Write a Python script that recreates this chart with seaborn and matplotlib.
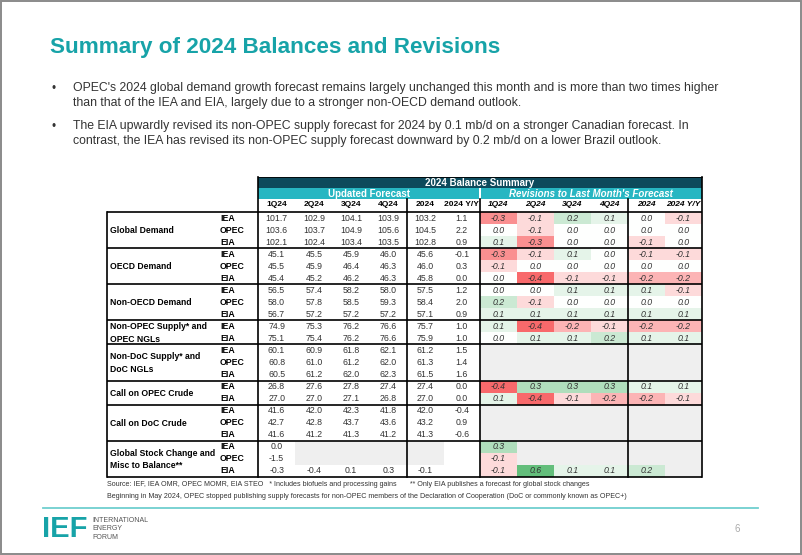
import matplotlib
matplotlib.use("Agg")
import matplotlib.pyplot as plt
import numpy as np
import pandas as pd
import seaborn as sns
from matplotlib.colors import LinearSegmentedColormap, ListedColormap, TwoSlopeNorm
from matplotlib.patches import Rectangle

nan = np.nan

# ---- data -------------------------------------------------------------
groups = [
    "Global Demand",
    "OECD Demand",
    "Non-OECD Demand",
    "Non-OPEC Supply* and\nOPEC NGLs",
    "Non-DoC Supply* and\nDoC NGLs",
    "Call on OPEC Crude",
    "Call on DoC Crude",
    "Global Stock Change and\nMisc to Balance**",
]
group_sources = [
    ["IEA", "OPEC", "EIA"],
    ["IEA", "OPEC", "EIA"],
    ["IEA", "OPEC", "EIA"],
    ["IEA", "EIA"],
    ["IEA", "OPEC", "EIA"],
    ["IEA", "EIA"],
    ["IEA", "OPEC", "EIA"],
    ["IEA", "OPEC", "EIA"],
]
quarters = ["1Q24", "2Q24", "3Q24", "4Q24"]
annual = ["2024", "2024 Y/Y"]

updated_q = [
    [101.7, 102.9, 104.1, 103.9], [103.6, 103.7, 104.9, 105.6], [102.1, 102.4, 103.4, 103.5],
    [45.1, 45.5, 45.9, 46.0], [45.5, 45.9, 46.4, 46.3], [45.4, 45.2, 46.2, 46.3],
    [56.5, 57.4, 58.2, 58.0], [58.0, 57.8, 58.5, 59.3], [56.7, 57.2, 57.2, 57.2],
    [74.9, 75.3, 76.2, 76.6], [75.1, 75.4, 76.2, 76.6],
    [60.1, 60.9, 61.8, 62.1], [60.8, 61.0, 61.2, 62.0], [60.5, 61.2, 62.0, 62.3],
    [26.8, 27.6, 27.8, 27.4], [27.0, 27.0, 27.1, 26.8],
    [41.6, 42.0, 42.3, 41.8], [42.7, 42.8, 43.7, 43.6], [41.6, 41.2, 41.3, 41.2],
    [0.0, nan, nan, nan], [-1.5, nan, nan, nan], [-0.3, -0.4, 0.1, 0.3],
]
updated_a = [
    [103.2, 1.1], [104.5, 2.2], [102.8, 0.9],
    [45.6, -0.1], [46.0, 0.3], [45.8, 0.0],
    [57.5, 1.2], [58.4, 2.0], [57.1, 0.9],
    [75.7, 1.0], [75.9, 1.0],
    [61.2, 1.5], [61.3, 1.4], [61.5, 1.6],
    [27.4, 0.0], [27.0, 0.0],
    [42.0, -0.4], [43.2, 0.9], [41.3, -0.6],
    [nan, nan], [nan, nan], [-0.1, nan],
]
revision_q = [
    [-0.3, -0.1, 0.2, 0.1], [0.0, -0.1, 0.0, 0.0], [0.1, -0.3, 0.0, 0.0],
    [-0.3, -0.1, 0.1, 0.0], [-0.1, 0.0, 0.0, 0.0], [0.0, -0.4, -0.1, -0.1],
    [0.0, 0.0, 0.1, 0.1], [0.2, -0.1, 0.0, 0.0], [0.1, 0.1, 0.1, 0.1],
    [0.1, -0.4, -0.2, -0.1], [0.0, 0.1, 0.1, 0.2],
    [nan, nan, nan, nan], [nan, nan, nan, nan], [nan, nan, nan, nan],
    [-0.4, 0.3, 0.3, 0.3], [0.1, -0.4, -0.1, -0.2],
    [nan, nan, nan, nan], [nan, nan, nan, nan], [nan, nan, nan, nan],
    [0.3, nan, nan, nan], [-0.1, nan, nan, nan], [-0.1, 0.6, 0.1, 0.1],
]
revision_a = [
    [0.0, -0.1], [0.0, 0.0], [-0.1, 0.0],
    [-0.1, -0.1], [0.0, 0.0], [-0.2, -0.2],
    [0.1, -0.1], [0.0, 0.0], [0.1, 0.1],
    [-0.2, -0.2], [0.1, 0.1],
    [nan, nan], [nan, nan], [nan, nan],
    [0.1, 0.1], [-0.2, -0.1],
    [nan, nan], [nan, nan], [nan, nan],
    [nan, nan], [nan, nan], [0.2, nan],
]

title = "Summary of 2024 Balances and Revisions"
bullets = [
    "OPEC's 2024 global demand growth forecast remains largely unchanged this month and is more than two times higher\n"
    "than that of the IEA and EIA, largely due to a stronger non-OECD demand outlook.",
    "The EIA upwardly revised its non-OPEC supply forecast for 2024 by 0.1 mb/d on a stronger Canadian forecast. In\n"
    "contrast, the IEA has revised its non-OPEC supply forecast downward by 0.2 mb/d on a lower Brazil outlook.",
]

# ---- layout (pixels) ---------------------------------------------------
W, H = 802, 555
X_LAB, X_UPD, X_UPD_A, X_REV, X_REV_A, X_END = 107, 258, 407, 480, 628, 702
Y_TOP, Y_H2, Y_H3, Y_DATA, Y_END = 176.5, 188, 199, 212, 477
TEAL = "#17a3a8"
DARK = "#0d4a5c"
CYAN = "#27b6c2"
GREY = "#efefef"
TXT = "#333333"
FS = 6.3

sources = [s for grp in group_sources for s in grp]
row_h = (Y_END - Y_DATA) / len(sources)

plt.rcParams["font.family"] = ["Liberation Sans", "DejaVu Sans"]
fig = plt.figure(figsize=(W / 100, H / 100), dpi=100)


def px_axes(x0, y0, x1, y1):
    return fig.add_axes([x0 / W, 1 - y1 / H, (x1 - x0) / W, (y1 - y0) / H])


def labels_of(block):
    return [["" if np.isnan(v) else f"{v:.1f}" for v in row] for row in block]


shade_cmap = ListedColormap(["white", GREY])
rev_cmap = LinearSegmentedColormap.from_list("rev", ["#F8696B", "#FFFFFF", "#63BE7B"])
rev_norm = TwoSlopeNorm(vmin=-0.4, vcenter=0.0, vmax=0.6)


def draw_block(x0, x1, values, cols, revision, show_sources=False):
    ax = px_axes(x0, Y_DATA, x1, Y_END)
    df = pd.DataFrame(values, columns=cols)
    if revision:
        ax.set_facecolor(GREY)
        sns.heatmap(df, ax=ax, cmap=rev_cmap, norm=rev_norm, cbar=False,
                    annot=True, fmt=".1f", xticklabels=cols, yticklabels=sources,
                    annot_kws={"fontsize": FS, "style": "italic", "color": TXT})
    else:
        # missing values are shaded grey, except the Y/Y column which stays blank
        shade = df.isna().astype(float)
        if "2024 Y/Y" in shade.columns:
            shade["2024 Y/Y"] = 0.0
        sns.heatmap(shade, ax=ax, cmap=shade_cmap, vmin=0, vmax=1, cbar=False,
                    annot=np.array(labels_of(values)), fmt="",
                    xticklabels=cols, yticklabels=sources,
                    annot_kws={"fontsize": FS, "color": TXT})
    ax.xaxis.tick_top()
    ax.set_xticklabels(cols, rotation=0, fontsize=6.0, fontweight="bold",
                       style="italic" if revision else "normal", color="black")
    ax.tick_params(axis="x", length=0, pad=2.6)
    if show_sources:
        ax.set_yticklabels(sources, rotation=0, ha="left", fontsize=FS,
                           fontweight="bold", color="black")
        ax.tick_params(axis="y", length=0, pad=(x0 - 220) * 0.72)
    else:
        ax.set_yticks([])
    ax.set_xlabel("")
    ax.set_ylabel("")
    return ax


draw_block(X_UPD, X_UPD_A, updated_q, quarters, False, show_sources=True)
draw_block(X_UPD_A, X_REV, updated_a, annual, False)
draw_block(X_REV, X_REV_A, revision_q, quarters, True)
draw_block(X_REV_A, X_END, revision_a, annual, True)

# ---- overlay: headers, rules, text ------------------------------------
ov = fig.add_axes([0, 0, 1, 1], facecolor="none")
ov.set_xlim(0, W)
ov.set_ylim(H, 0)
ov.axis("off")

ov.add_patch(Rectangle((0.75, 0.75), W - 1.5, H - 1.5, fill=False, ec="#8a8a8a", lw=1.4))

ov.text(50, 47, title, fontsize=16.2, fontweight="bold", color=TEAL, va="center", ha="left")
by = 89
for b in bullets:
    ov.text(52, by, "\u2022", fontsize=8.5, color=TXT, va="center")
    ov.text(73, by - 7.5, b, fontsize=8.8, color=TXT, va="top", ha="left", linespacing=1.36)
    by += 38

# table headers
ov.add_patch(Rectangle((X_UPD, Y_TOP), X_END - X_UPD, Y_H2 - Y_TOP, color=DARK, lw=0))
ov.add_patch(Rectangle((X_UPD, Y_H2), X_REV - X_UPD - 0.8, Y_H3 - Y_H2, color=CYAN, lw=0))
ov.add_patch(Rectangle((X_REV + 0.8, Y_H2), X_END - X_REV - 0.8, Y_H3 - Y_H2, color=CYAN, lw=0))
ov.text((X_UPD + X_END) / 2, (Y_TOP + Y_H2) / 2 + 0.5, "2024 Balance Summary", color="white",
        fontsize=7, fontweight="bold", ha="center", va="center")
ov.text((X_UPD + X_REV) / 2, (Y_H2 + Y_H3) / 2 + 0.5, "Updated Forecast", color="white",
        fontsize=7, fontweight="bold", ha="center", va="center")
ov.text((X_REV + X_END) / 2, (Y_H2 + Y_H3) / 2 + 0.5, "Revisions to Last Month's Forecast",
        color="white", fontsize=7, fontweight="bold", style="italic", ha="center", va="center")

LW = 1.2
# group rules and labels
y = Y_DATA
ov.plot([X_LAB, X_END], [y, y], color="black", lw=LW, solid_capstyle="butt")
for grp, srcs in zip(groups, group_sources):
    y_next = y + len(srcs) * row_h
    ov.text(X_LAB + 3, (y + y_next) / 2 + 0.5, grp, fontsize=6.2, fontweight="bold",
            color="black", ha="left", va="center", linespacing=1.45)
    ov.plot([X_LAB, X_END], [y_next, y_next], color="black", lw=LW, solid_capstyle="butt")
    y = y_next

ov.plot([X_LAB, X_LAB], [Y_DATA, Y_END], color="black", lw=LW)
for xv in (X_UPD, X_END):
    ov.plot([xv, xv], [Y_TOP, Y_END], color="black", lw=LW)
for xv in (X_UPD_A, X_REV_A):
    ov.plot([xv, xv], [Y_H3, Y_END], color="black", lw=LW)
ov.plot([X_REV, X_REV], [Y_H3, Y_END], color="black", lw=LW)
ov.plot([X_UPD, X_END], [Y_TOP, Y_TOP], color="black", lw=0.6)

# notes
ov.text(X_LAB, 484, "Source: IEF, IEA OMR, OPEC MOMR, EIA STEO   * Includes biofuels and processing gains",
        fontsize=5.1, color=TXT, va="center")
ov.text(410, 484, "** Only EIA publishes a forecast for global stock changes",
        fontsize=5.1, color=TXT, va="center")
ov.text(X_LAB, 496, "Beginning in May 2024, OPEC stopped publishing supply forecasts for non-OPEC members "
        "of the Declaration of Cooperation (DoC or commonly known as OPEC+)",
        fontsize=5.1, color=TXT, va="center")

# footer
ov.plot([43, 758], [507.5, 507.5], color="#6fcfcf", lw=1.3)
ov.text(42, 529, "IEF", fontsize=21, fontweight="bold", color=TEAL, va="center", ha="left")
ov.text(92, 529, "INTERNATIONAL\nENERGY\nFORUM", fontsize=5, color="#555555",
        va="center", ha="left", linespacing=1.3)
ov.text(737, 529, "6", fontsize=7, color="#aaaaaa", va="center", ha="center")

fig.savefig("out.png", dpi=100)
